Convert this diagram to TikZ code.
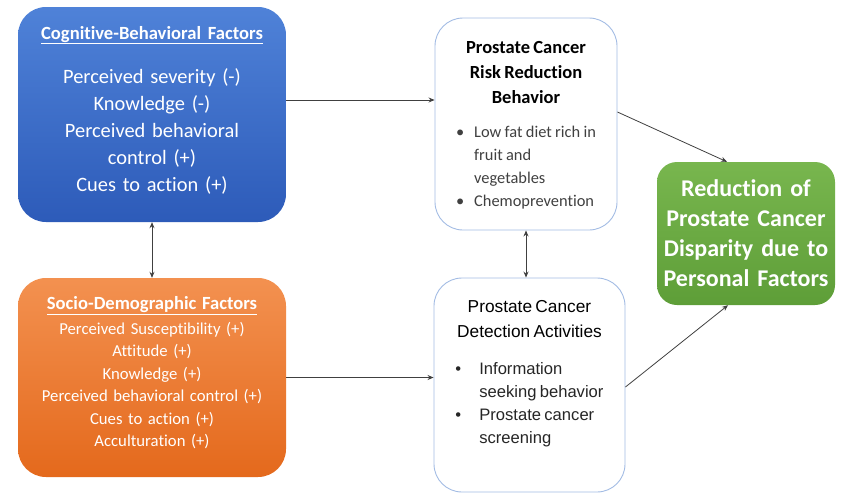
\documentclass[tikz,border=0pt]{standalone}
\usepackage{fontspec}
\setmainfont{Carlito}[Ligatures=NoCommon]
\newfontfamily\arialfont{Liberation Sans}
\usetikzlibrary{arrows.meta}
\definecolor{cogtop}{HTML}{4F82D8}
\definecolor{cogbot}{HTML}{2D5BB9}
\definecolor{soctop}{HTML}{F39150}
\definecolor{socbot}{HTML}{E4691C}
\definecolor{goaltop}{HTML}{78B64E}
\definecolor{goalbot}{HTML}{5E9E38}
\definecolor{edgeblue}{HTML}{A3BCE4}
\definecolor{arrowgray}{HTML}{404040}
\definecolor{bulletgray}{HTML}{404040}
\tikzset{
  factorbox/.style={rounded corners=28pt, minimum width=268pt, text width=262pt,
    inner sep=3pt, text=white, align=center},
  stagebox/.style={draw=edgeblue, line width=0.9pt, fill=white, rounded corners=28pt,
    inner sep=3pt, text=black, align=center},
  link/.style={draw=arrowgray, line width=0.8pt, -{Stealth[length=6pt,width=5pt]}},
  dlink/.style={link, {Stealth[length=6pt,width=5pt]}-{Stealth[length=6pt,width=5pt]}}
}
\begin{document}
\begin{tikzpicture}[x=1pt,y=-1pt]
  \useasboundingbox (0,0) rectangle (842,493);
  % factor boxes
  \node[factorbox, top color=cogtop, bottom color=cogbot, minimum height=215pt,
    font=\fontsize{20.4}{27}\selectfont] (cog) at (152,114.5) {%
    {\fontsize{18.6}{22}\selectfont\bfseries\underline{Cognitive-Behavioral Factors}\par}\vspace{17pt}
    Perceived severity (-)\\Knowledge (-)\\Perceived behavioral\\control (+)\\Cues to action (+)\rule[-12pt]{0pt}{12pt}\par};
  \node[factorbox, top color=soctop, bottom color=socbot, minimum height=199pt,
    font=\fontsize{16.7}{22.5}\selectfont] (soc) at (152,377.5) {%
    {\fontsize{18.6}{22}\selectfont\bfseries\underline{Socio-Demographic Factors}\par}\vspace{2.5pt}
    Perceived Susceptibility (+)\\Attitude (+)\\Knowledge (+)\\Perceived behavioral control (+)\\Cues to action (+)\\Acculturation (+)\rule[-12pt]{0pt}{12pt}\par};
  % behaviour boxes
  \node[stagebox, minimum width=182pt, minimum height=212pt, text width=176pt] (risk) at (526,124) {%
    {\fontsize{18.5}{25}\selectfont\bfseries\rule{0pt}{19pt}Prostate Cancer\\Risk Reduction\\Behavior\par}\vspace{17pt}
    {\fontsize{16.4}{23}\selectfont\color{bulletgray}%
    \begin{tabular}{@{}l@{\hspace{10pt}}l@{}}
      \textbullet & Low fat diet rich in\\
                  & fruit and\\
                  & vegetables\\
      \textbullet & Chemoprevention
    \end{tabular}\par}};
  \node[stagebox, minimum width=191pt, minimum height=214pt, text width=185pt,
    font=\arialfont] (det) at (529.5,385) {%
    {\fontsize{17.3}{25}\selectfont Prostate Cancer\\Detection Activities\par}\vspace{20pt}
    {\fontsize{16.6}{23}\selectfont\color{black!85}%
    \begin{tabular}{@{}l@{\hspace{18pt}}l@{}}
      \textbullet & Information\\
                  & seeking behavior\\
      \textbullet & Prostate cancer\\
                  & screening
    \end{tabular}\par}
    \rule{0pt}{18pt}};
  % outcome
  \node[factorbox, top color=goaltop, bottom color=goalbot, rounded corners=20pt,
    minimum width=178pt, text width=172pt, minimum height=143pt,
    font=\fontsize{24}{30}\selectfont\bfseries] (goal) at (746,233.5) {%
    Reduction of\\Prostate Cancer\\Disparity due to\\Personal Factors};
  % connectors
  \coordinate (c1) at ([yshift=14.5pt]cog.east);
  \draw[link] (c1) -- (c1 -| risk.west);
  \draw[link] (soc.east) -- (soc.east -| det.west);
  \draw[dlink] (cog.south) -- (soc.north);
  \draw[dlink] (risk.south) -- (risk.south |- det.north);
  \draw[link] ([yshift=12pt]risk.east) -- ([xshift=-19pt]goal.north);
  \draw[link] ([yshift=-2pt]det.east) -- ([xshift=-18pt]goal.south);
\end{tikzpicture}
\end{document}
